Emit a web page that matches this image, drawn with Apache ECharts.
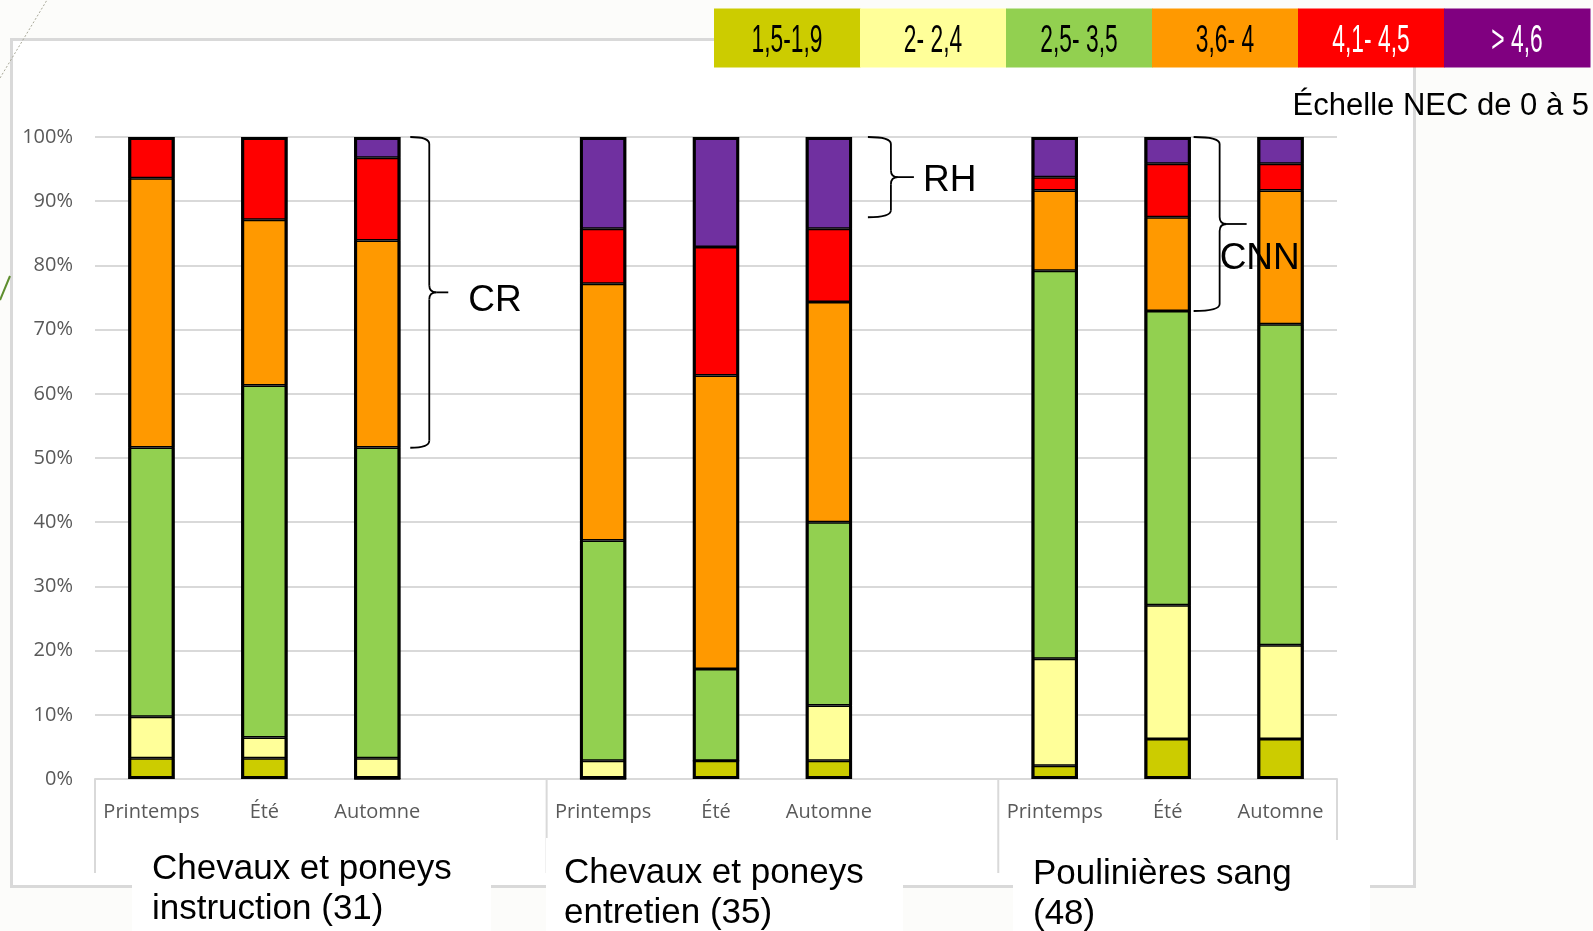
<!DOCTYPE html>
<html>
<head>
<meta charset="utf-8">
<script src="https://cdn.jsdelivr.net/npm/echarts@6/dist/echarts.min.js"></script>
<style>
html,body{margin:0;padding:0;background:#FCFCFA;}
#c{width:1593px;height:931px;}
</style>
</head>
<body>
<div id="c"></div>
<script>
// ---- data (percent of horses per body condition class) ----
const categories = ['Printemps','Été','Automne','','Printemps','Été','Automne','','Printemps','Été','Automne'];
const classNames = ['1,5-1,9','2- 2,4','2,5- 3,5','3,6- 4','4,1- 4,5','> 4,6'];
const s15_19 = [3.23, 3.23, 0,     '-', 0,     2.86,  2.86,  '-', 2.08,  6.25,  6.25];
const s2_24  = [6.45, 3.23, 3.23,  '-', 2.86,  0,     8.57,  '-', 16.67, 20.83, 14.58];
const s25_35 = [41.94,54.84,48.39, '-', 34.29, 14.29, 28.57, '-', 60.42, 45.83, 50.00];
const s36_4  = [41.94,25.81,32.26, '-', 40.00, 45.71, 34.29, '-', 12.50, 14.58, 20.83];
const s41_45 = [6.45, 12.90,12.90, '-', 8.57,  20.00, 11.43, '-', 2.08,  8.33,  4.17];
const s46    = [0,    0,    3.23,  '-', 14.29, 17.14, 14.29, '-', 6.25,  4.17,  4.17];
const yTicks = [0,10,20,30,40,50,60,70,80,90,100];
const groupTitles = ['Chevaux et poneys\ninstruction (31)','Chevaux et poneys\nentretien (35)','Poulinières sang\n(48)'];
const scaleTitle = 'Échelle NEC de 0 à 5';
// bracket annotations: [label, category index, from %, to %, label %]
const braces = [['CR',2,100,51.6,74.5],['RH',6,100,87.5,93.2],['CNN',9,100,72.9,81.0]];

const barColors = ['#CCCC00','#FFFF99','#92D050','#FF9900','#FF0000','#7030A0'];
const legendColors = ['#CCCC00','#FFFF99','#92D050','#FF9900','#FF0000','#800080'];
const legendText = ['#000','#000','#000','#000','#fff','#fff'];
const seriesData = [s15_19,s2_24,s25_35,s36_4,s41_45,s46];
const totals = categories.map((c,i)=> seriesData[0][i]==='-' ? '-' : Math.min(100, seriesData.reduce((a,s)=>a+(+s[i]),0)));

const chart = echarts.init(document.getElementById('c'), null, {renderer:'canvas'});
const xLabel = {color:'#595959', fontFamily:'Open Sans', fontSize:20, margin:23, interval:0};
const option = {
  backgroundColor: '#FCFCFA',
  animation: false,
  grid: {left:95, top:137, right:256, bottom:152, containLabel:false},
  xAxis: [{
    type:'category', data: categories, boundaryGap:true,
    axisLine:{show:true, lineStyle:{color:'#D9D9D9', width:2}},
    axisTick:{show:false},
    axisLabel:xLabel
  },{
    type:'category', data: categories, boundaryGap:true, show:false, position:'bottom'
  }],
  yAxis: {
    type:'value', min:0, max:100, interval:10,
    axisLine:{show:false}, axisTick:{show:false},
    splitLine:{lineStyle:{color:'#D9D9D9', width:2}},
    axisLabel:{color:'#595959', fontFamily:'Open Sans', fontSize:20, margin:22, formatter:'{value}%'}
  },
  series: seriesData.map((d,i)=>({
    name: classNames[i], type:'bar', stack:'total', data:d, barWidth:'41%',
    itemStyle:{color:barColors[i], borderColor:'#000', borderWidth:1.5}
  })).concat([{
    name:'outline', type:'bar', xAxisIndex:1, data: totals, barWidth:'41%', z:3, silent:true,
    itemStyle:{color:'rgba(0,0,0,0)', borderColor:'#000', borderWidth:3}
  }])
};
chart.setOption(option);

function px(idx, val){ return chart.convertToPixel({gridIndex:0}, [idx, val]); }
const slotW = px(1,0)[0] - px(0,0)[0];
const yAxisPix = px(0,0)[1];
const g = [];
// inner white panel with border
g.push({type:'rect', z:-10, shape:{x:11.5,y:39.5,width:1403,height:847}, style:{fill:'#fff', stroke:'#D9D9D9', lineWidth:3}});
// group separators
[0,4,8,11].forEach(k=>{
  const x = px(0,0)[0] - slotW/2 + k*slotW;
  g.push({type:'line', z:5, shape:{x1:x,y1:yAxisPix,x2:x,y2:873}, style:{stroke:'#D9D9D9', lineWidth:2}});
});
// white text boxes
const boxes = [[132,840,359,91],[546,838,357,93],[1013,840,357,91]];
const titlePos = [[152,889],[564,893],[1033,894]];
boxes.forEach((b,i)=>{
  g.push({type:'rect', z:6, shape:{x:b[0],y:b[1],width:b[2],height:b[3]}, style:{fill:'#fff'}});
  g.push({type:'text', z:7, x:titlePos[i][0], y:titlePos[i][1], style:{text:groupTitles[i], fill:'#000', font:'35px "Liberation Sans", Arial', lineHeight:40, textAlign:'left', textVerticalAlign:'middle'}});
});
// legend blocks
const lx0 = 714, lw = 146, ly = 8.5, lh = 59;
classNames.forEach((n,i)=>{
  g.push({type:'rect', z:8, shape:{x:lx0+i*lw, y:ly, width:lw+0.5, height:lh}, style:{fill:legendColors[i]}});
  g.push({type:'text', z:9, x:lx0+i*lw+lw/2, y:42, scaleX:0.6, style:{text:n, fill:legendText[i], font:'38px "Liberation Sans", Arial', textAlign:'center', textVerticalAlign:'middle'}});
});
g.push({type:'text', z:9, x:1589, y:106, style:{text:scaleTitle, fill:'#000', font:'31px "Liberation Sans", Arial', textAlign:'right', textVerticalAlign:'middle'}});
// braces
const braceOff = {CR:[33,52,71,91], RH:[39,62,85,94], CNN:[26,52,79,52]};
const bs = {fill:'none', stroke:'#000', lineWidth:1.8};
braces.forEach(b=>{
  const cx = px(b[1],0)[0];
  const o = braceOff[b[0]];
  const xL = cx+o[0], xS = cx+o[1], xT = cx+o[2];
  const yT = px(b[1],b[2])[1], yB = px(b[1],b[3])[1], yM=(yT+yB)/2, r=7;
  g.push({type:'bezierCurve', z:9, shape:{x1:xL,y1:yT,cpx1:xS,cpy1:yT,x2:xS,y2:yT+r}, style:bs});
  g.push({type:'line', z:9, shape:{x1:xS,y1:yT+r,x2:xS,y2:yM-r}, style:bs});
  g.push({type:'bezierCurve', z:9, shape:{x1:xS,y1:yM-r,cpx1:xS,cpy1:yM,x2:xS+r,y2:yM}, style:bs});
  g.push({type:'line', z:9, shape:{x1:xS+r,y1:yM,x2:xT,y2:yM}, style:bs});
  g.push({type:'bezierCurve', z:9, shape:{x1:xS+r,y1:yM,cpx1:xS,cpy1:yM,x2:xS,y2:yM+r}, style:bs});
  g.push({type:'line', z:9, shape:{x1:xS,y1:yM+r,x2:xS,y2:yB-r}, style:bs});
  g.push({type:'bezierCurve', z:9, shape:{x1:xS,y1:yB-r,cpx1:xS,cpy1:yB,x2:xL,y2:yB}, style:bs});
  g.push({type:'text', z:9, x:cx+o[3], y:px(b[1],b[4])[1], style:{text:b[0], fill:'#000', font:'37px "Liberation Sans", Arial', textAlign:'left', textVerticalAlign:'middle'}});
});
// decorative slide artefacts at the left edge
g.push({type:'line', z:10, shape:{x1:0,y1:78,x2:47,y2:0}, style:{stroke:'#A8A898', lineWidth:1, lineDash:[2,2]}});
g.push({type:'line', z:10, shape:{x1:0,y1:300,x2:10,y2:276}, style:{stroke:'#5E8E2E', lineWidth:2}});
chart.setOption({graphic: g});
</script>
</body>
</html>
